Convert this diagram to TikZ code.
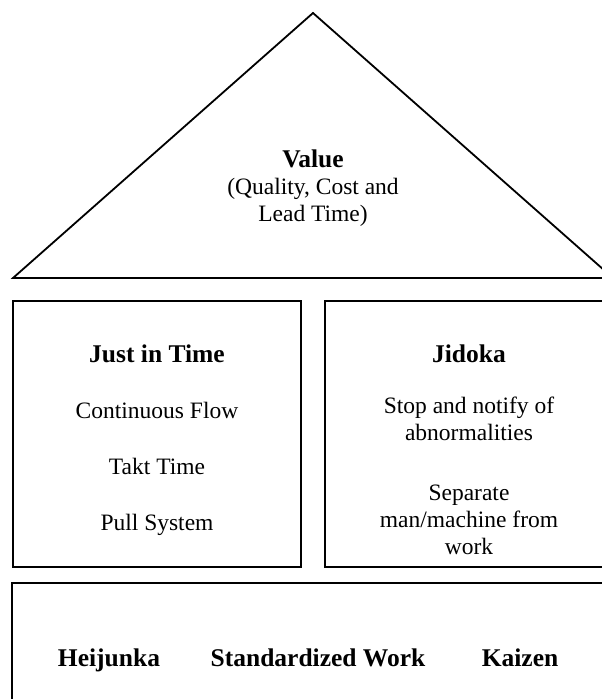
\documentclass[tikz,border=0pt]{standalone}
\usepackage{fontspec}
\setmainfont{Liberation Serif}
\begin{document}
\begin{tikzpicture}[x=1pt,y=-1pt,
  frame/.style={line width=1.8pt,line join=miter},
  body/.style={anchor=base,inner sep=0pt,align=center,
    font=\fontsize{23.5}{27}\selectfont},
  head/.style={anchor=base,inner sep=0pt,align=center,
    font=\fontsize{25.5}{29}\selectfont\bfseries}]
\useasboundingbox (0,0) rectangle (602,699);
\clip (0,0) rectangle (602,699);

% roof
\draw[frame] (13,278) -- (313,13) -- (613,278) -- cycle;
\node[head] (value) at (313,167) {Value};
% multi-line nodes are placed by the baseline of their last line
\node[body] (vsub) at (313,221) {(Quality, Cost and\\Lead Time)};

% pillars
\draw[frame] (13,301) rectangle (301,567);
\draw[frame] (325,301) rectangle (613,567);

\node[head] (jit) at (157,362) {Just in Time};
\node[body] (flow) at (157,418) {Continuous Flow};
\node[body] (takt) at (157,474) {Takt Time};
\node[body] (pull) at (157,530) {Pull System};

\node[head] (jidoka) at (469,362) {Jidoka};
\node[body] (stop) at (469,440) {Stop and notify of\\abnormalities};
\node[body] (sep) at (469,554) {Separate\\man/machine from\\work};

% foundation
\draw[frame] (12,583) rectangle (613,720);
\node[head] (heij) at (109,666) {Heijunka};
\node[head] (std) at (318,666) {Standardized Work};
\node[head] (kaizen) at (520,666) {Kaizen};
\end{tikzpicture}
\end{document}
